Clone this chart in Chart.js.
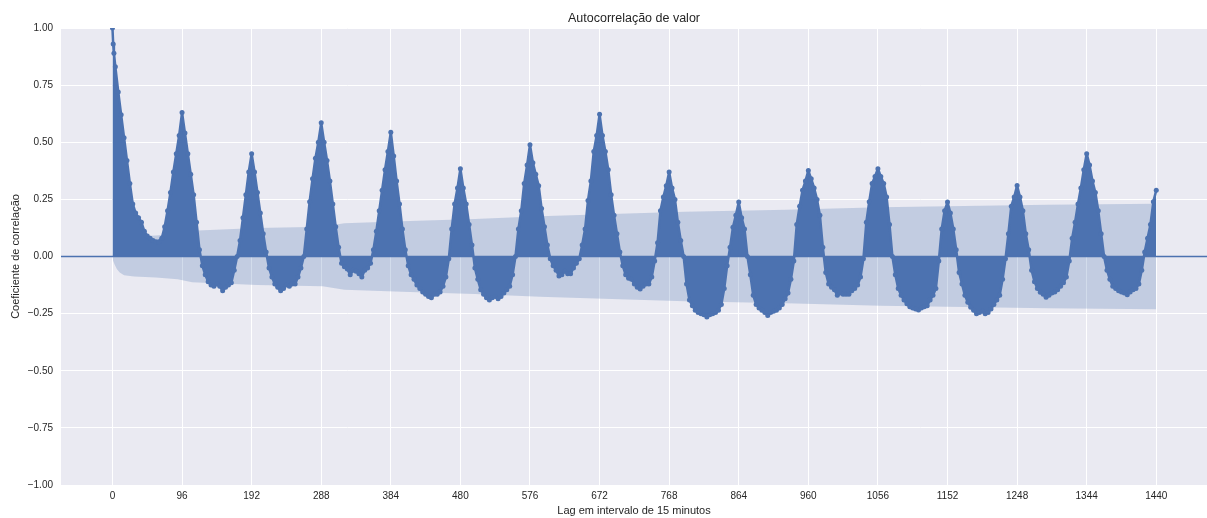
<!DOCTYPE html>
<html>
<head>
<meta charset="utf-8">
<script src="https://cdn.jsdelivr.net/npm/chart.js@4.4.1/dist/chart.umd.min.js"></script>
<style>
    html, body { margin: 0; padding: 0; background: #ffffff; }
    #wrap { width: 1207px; height: 518px; }
</style>
</head>
<body>
<div id="wrap"><canvas id="acfChart" width="1207" height="518"></canvas></div>
<script>
// first lags, read one by one
const headLags = [0, 1, 2];
const headAcf = [1.0, 0.93, 0.89];

// after that, one value every 4 lags (4, 8, ... 1440), one row per 96 lags
const lagStep = 4;
const acfValues = [
    0.83, 0.72, 0.62, 0.52, 0.42, 0.32, 0.23, 0.19, 0.17, 0.15, 0.11, 0.09, 0.08, 0.07, 0.065, 0.065, 0.08, 0.13, 0.20, 0.28, 0.37, 0.45, 0.53, 0.63,
    0.54, 0.45, 0.36, 0.27, 0.15, 0.03, -0.04, -0.08, -0.11, -0.125, -0.13, -0.12, -0.13, -0.15, -0.135, -0.125, -0.115, -0.06, 0.0, 0.07, 0.17, 0.27, 0.37, 0.45,
    0.37, 0.28, 0.19, 0.10, 0.02, -0.05, -0.09, -0.12, -0.135, -0.15, -0.14, -0.125, -0.13, -0.12, -0.12, -0.09, -0.05, 0.0, 0.12, 0.24, 0.34, 0.43, 0.50, 0.585,
    0.50, 0.42, 0.33, 0.23, 0.13, 0.04, -0.03, -0.045, -0.055, -0.08, -0.06, -0.065, -0.075, -0.09, -0.06, -0.05, -0.03, 0.03, 0.11, 0.20, 0.29, 0.38, 0.46, 0.544,
    0.44, 0.33, 0.23, 0.12, 0.03, -0.04, -0.08, -0.10, -0.125, -0.14, -0.155, -0.165, -0.175, -0.18, -0.165, -0.165, -0.155, -0.13, -0.09, -0.01, 0.12, 0.23, 0.30, 0.384,
    0.30, 0.23, 0.14, 0.05, -0.05, -0.10, -0.145, -0.165, -0.18, -0.19, -0.18, -0.175, -0.185, -0.175, -0.16, -0.145, -0.13, -0.08, 0.0, 0.12, 0.20, 0.32, 0.40, 0.489,
    0.41, 0.36, 0.31, 0.21, 0.13, 0.05, -0.01, -0.04, -0.06, -0.085, -0.08, -0.065, -0.075, -0.075, -0.05, -0.03, -0.01, 0.05, 0.12, 0.245, 0.33, 0.46, 0.53, 0.622,
    0.53, 0.46, 0.38, 0.27, 0.18, 0.10, 0.02, -0.04, -0.08, -0.095, -0.10, -0.12, -0.135, -0.142, -0.13, -0.12, -0.12, -0.09, -0.02, 0.06, 0.20, 0.26, 0.31, 0.37,
    0.30, 0.25, 0.15, 0.07, 0.0, -0.12, -0.19, -0.215, -0.235, -0.245, -0.25, -0.255, -0.265, -0.255, -0.25, -0.245, -0.235, -0.21, -0.14, -0.04, 0.04, 0.128, 0.18, 0.238,
    0.17, 0.12, 0.0, -0.08, -0.17, -0.21, -0.225, -0.235, -0.245, -0.258, -0.245, -0.24, -0.235, -0.225, -0.21, -0.185, -0.16, -0.10, -0.02, 0.14, 0.22, 0.29, 0.33, 0.376,
    0.34, 0.30, 0.25, 0.18, 0.04, -0.07, -0.12, -0.135, -0.145, -0.17, -0.16, -0.165, -0.165, -0.165, -0.15, -0.14, -0.125, -0.09, -0.01, 0.15, 0.24, 0.32, 0.35, 0.384,
    0.35, 0.32, 0.26, 0.14, 0.0, -0.08, -0.14, -0.17, -0.19, -0.207, -0.22, -0.225, -0.23, -0.234, -0.225, -0.22, -0.215, -0.19, -0.17, -0.14, -0.02, 0.12, 0.20, 0.238,
    0.19, 0.12, 0.03, -0.07, -0.12, -0.17, -0.20, -0.222, -0.235, -0.25, -0.245, -0.24, -0.25, -0.245, -0.23, -0.21, -0.19, -0.17, -0.10, -0.01, 0.10, 0.22, 0.26, 0.311,
    0.26, 0.20, 0.10, 0.03, -0.06, -0.11, -0.14, -0.156, -0.165, -0.178, -0.17, -0.16, -0.155, -0.145, -0.13, -0.115, -0.09, -0.02, 0.08, 0.15, 0.23, 0.30, 0.38, 0.45,
    0.40, 0.33, 0.28, 0.20, 0.10, 0.0, -0.06, -0.10, -0.13, -0.14, -0.15, -0.155, -0.16, -0.167, -0.155, -0.145, -0.14, -0.12, -0.06, 0.02, 0.08, 0.14, 0.24, 0.29
];

// confidence band (half width, mirrored around zero)
const bandLags = [0, 1, 3, 6, 10, 16, 30, 60, 90, 110, 200, 290, 320, 410, 500, 590, 700, 790, 930, 1060, 1290, 1440];
const bandHalfWidth = [0, 0.02, 0.035, 0.055, 0.07, 0.082, 0.088, 0.092, 0.10, 0.113, 0.125, 0.13, 0.145, 0.155, 0.164, 0.176, 0.187, 0.196, 0.205, 0.215, 0.226, 0.231];

const xTicks = [0, 96, 192, 288, 384, 480, 576, 672, 768, 864, 960, 1056, 1152, 1248, 1344, 1440];
const xMin = -71, xMax = 1510;

const titleText = "Autocorrelação de valor";
const xTitle = "Lag em intervalo de 15 minutos";
const yTitle = "Coeficiente de correlação";

const blue = "#4C72B0";
const textColor = "#262626";
const fontFamily = "'Liberation Sans', Arial, sans-serif";

const lags = headLags.slice();
const acf = headAcf.slice();
acfValues.forEach((v, i) => {
    lags.push((i + 1) * lagStep);
    acf.push(v);
});

const acfPoints = lags.map((l, i) => ({ x: l, y: acf[i] }));
const bandUpper = bandLags.map((l, i) => ({ x: l, y: bandHalfWidth[i] }));
const bandLower = bandLags.map((l, i) => ({ x: l, y: -bandHalfWidth[i] }));

// grey plot area like seaborn darkgrid, title centred over the plot area
const plotBackground = {
    id: "plotBackground",
    beforeDraw(chart) {
        const { ctx, chartArea: a } = chart;
        ctx.save();
        ctx.fillStyle = "#EAEAF2";
        ctx.fillRect(a.left, a.top, a.right - a.left, a.bottom - a.top);
        ctx.restore();
    },
    afterDraw(chart) {
        const { ctx } = chart;
        ctx.save();
        ctx.fillStyle = textColor;
        ctx.font = "12.5px " + fontFamily;
        ctx.textAlign = "center";
        ctx.textBaseline = "middle";
        ctx.fillText(titleText, 634, 19);
        ctx.restore();
    }
};

Chart.defaults.font.family = fontFamily;
Chart.defaults.color = textColor;

const ctx = document.getElementById("acfChart").getContext("2d");
const acfChart = new Chart(ctx, {
    type: "scatter",
    data: {
        datasets: [
            {
                type: "line",
                data: bandUpper,
                borderColor: "transparent",
                borderWidth: 0,
                pointRadius: 0,
                backgroundColor: "rgba(76, 114, 176, 0.25)",
                fill: "+1",
                order: 5
            },
            {
                type: "line",
                data: bandLower,
                borderColor: "transparent",
                borderWidth: 0,
                pointRadius: 0,
                fill: false,
                order: 5
            },
            {
                // the dense stems merge into a solid area down to zero
                type: "line",
                data: acfPoints,
                borderColor: blue,
                borderWidth: 2.5,
                borderJoinStyle: "round",
                backgroundColor: blue,
                pointRadius: 0,
                fill: "origin",
                order: 3
            },
            {
                type: "line",
                data: [{ x: xMin, y: 0 }, { x: xMax, y: 0 }],
                borderColor: blue,
                borderWidth: 1.5,
                pointRadius: 0,
                fill: false,
                order: 2
            },
            {
                type: "scatter",
                data: acfPoints,
                backgroundColor: blue,
                borderWidth: 0,
                pointRadius: 2.5,
                order: 1
            }
        ]
    },
    options: {
        responsive: false,
        devicePixelRatio: 1,
        animation: false,
        layout: { autoPadding: false, padding: { top: 28, right: 0, bottom: 0, left: 0 } },
        plugins: {
            legend: { display: false },
            tooltip: { enabled: false },
            title: { display: false }
        },
        scales: {
            x: {
                type: "linear",
                min: xMin,
                max: xMax,
                offset: false,
                grid: { color: "#ffffff", lineWidth: 1, drawTicks: false, offset: false },
                border: { display: false },
                afterBuildTicks: (scale) => {
                    scale.ticks = xTicks.map(v => ({ value: v }));
                },
                afterFit: (scale) => { scale.height = 33; },
                ticks: {
                    font: { size: 10 },
                    color: textColor,
                    padding: 5,
                    maxRotation: 0,
                    autoSkip: false,
                    callback: (v) => String(v)
                },
                title: {
                    display: true,
                    text: xTitle,
                    color: textColor,
                    font: { size: 11 },
                    padding: 0
                }
            },
            y: {
                min: -1,
                max: 1,
                grid: { color: "#ffffff", lineWidth: 1, drawTicks: false },
                border: { display: false },
                afterFit: (scale) => { scale.width = 61; },
                ticks: {
                    stepSize: 0.25,
                    font: { size: 10 },
                    color: textColor,
                    padding: 8,
                    callback: (v) => (v < 0 ? "\u2212" : "") + Math.abs(v).toFixed(2)
                },
                title: {
                    display: true,
                    text: yTitle,
                    color: textColor,
                    font: { size: 11 },
                    padding: 9
                }
            }
        }
    },
    plugins: [plotBackground]
});
</script>
</body>
</html>
